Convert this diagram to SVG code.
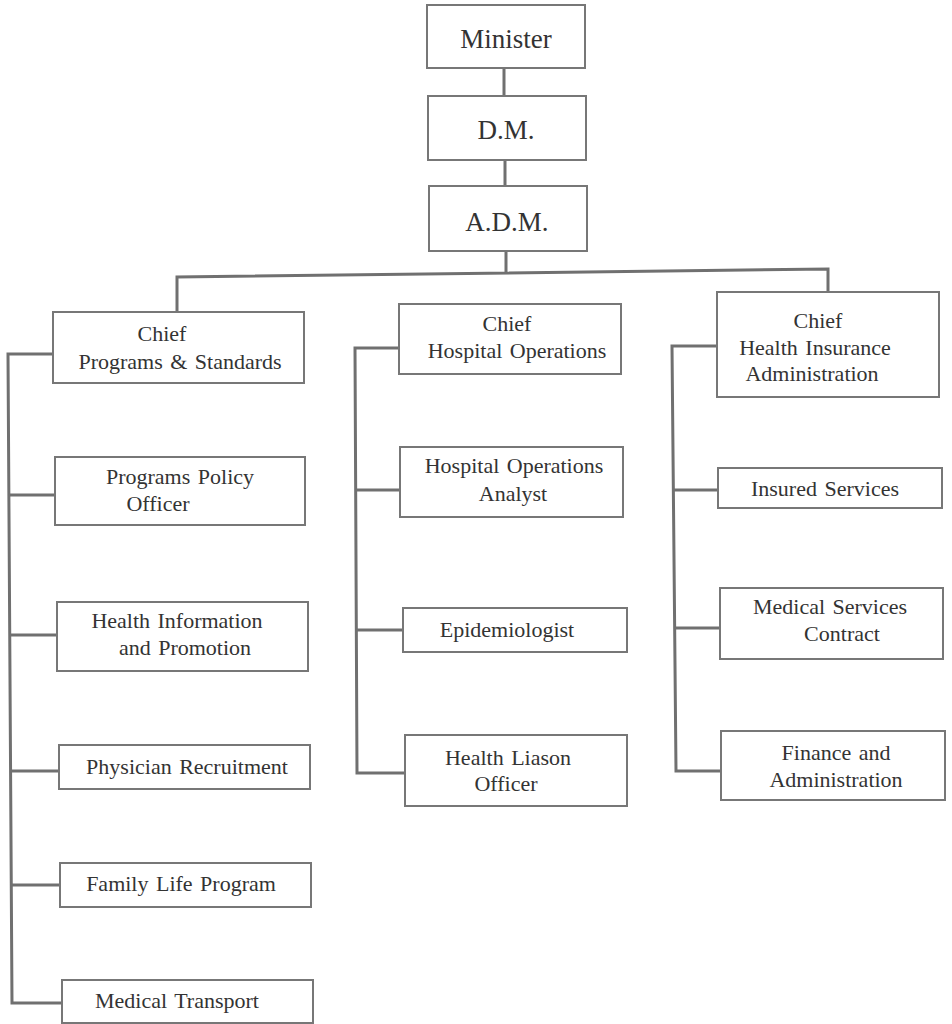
<svg xmlns="http://www.w3.org/2000/svg" width="952" height="1024" viewBox="0 0 952 1024">
<style>
.box{fill:#fff;stroke:#777;stroke-width:2}
.ln{fill:none;stroke:#707070;stroke-width:3}
text{font-family:"Liberation Serif","Times New Roman",serif;fill:#333;text-anchor:middle;font-size:22px;word-spacing:2px}
.big{font-size:27px}
</style>
<rect width="952" height="1024" fill="#fff"/>
<g id="connectors">
<path class="ln" d="M504 68V96M505 160V186M506 251V274"/>
<path class="ln" d="M177 312V277L828 269V292"/>
<path class="ln" d="M53 354H8L12 1003H62M9 495H55M10 635H57M11 771H59M12 885H60"/>
<path class="ln" d="M399 348H355L357 773H405M356 490H400M357 630H403"/>
<path class="ln" d="M717 346H672L676 771H721M674 490H718M675 628H720"/>
</g>
<g id="minister"><rect class="box" x="427" y="5" width="158" height="63"/><text class="big" x="506" y="48">Minister</text></g>
<g id="dm"><rect class="box" x="428" y="96" width="158" height="64"/><text class="big" x="506" y="139">D.M.</text></g>
<g id="adm"><rect class="box" x="429" y="186" width="158" height="65"/><text class="big" x="507" y="231">A.D.M.</text></g>
<g id="chief-ps"><rect class="box" x="53" y="312" width="251" height="71"/><text x="162" y="341">Chief</text><text x="180" y="369">Programs &amp; Standards</text></g>
<g id="chief-ho"><rect class="box" x="399" y="304" width="222" height="70"/><text x="507" y="331">Chief</text><text x="517" y="358">Hospital Operations</text></g>
<g id="chief-hia"><rect class="box" x="717" y="292" width="222" height="105"/><text x="818" y="328">Chief</text><text x="815" y="355">Health Insurance</text><text x="812" y="381">Administration</text></g>
<g id="ppo"><rect class="box" x="55" y="457" width="250" height="68"/><text x="180" y="484">Programs Policy</text><text x="158" y="511">Officer</text></g>
<g id="hip"><rect class="box" x="57" y="602" width="251" height="69"/><text x="177" y="628">Health Information</text><text x="185" y="655">and Promotion</text></g>
<g id="pr"><rect class="box" x="59" y="745" width="251" height="44"/><text x="187" y="774">Physician  Recruitment</text></g>
<g id="flp"><rect class="box" x="60" y="863" width="251" height="44"/><text x="181" y="891">Family Life Program</text></g>
<g id="mt"><rect class="box" x="62" y="980" width="251" height="43"/><text x="177" y="1008">Medical Transport</text></g>
<g id="hoa"><rect class="box" x="400" y="447" width="223" height="70"/><text x="514" y="473">Hospital Operations</text><text x="513" y="501">Analyst</text></g>
<g id="epi"><rect class="box" x="403" y="608" width="224" height="44"/><text x="507" y="637">Epidemiologist</text></g>
<g id="hlo"><rect class="box" x="405" y="735" width="222" height="71"/><text x="508" y="765">Health Liason</text><text x="506" y="791">Officer</text></g>
<g id="is"><rect class="box" x="718" y="468" width="224" height="40"/><text x="825" y="496">Insured  Services</text></g>
<g id="msc"><rect class="box" x="720" y="588" width="223" height="71"/><text x="830" y="614">Medical  Services</text><text x="842" y="641">Contract</text></g>
<g id="fa"><rect class="box" x="721" y="731" width="224" height="69"/><text x="836" y="760">Finance and</text><text x="836" y="787">Administration</text></g>
</svg>
